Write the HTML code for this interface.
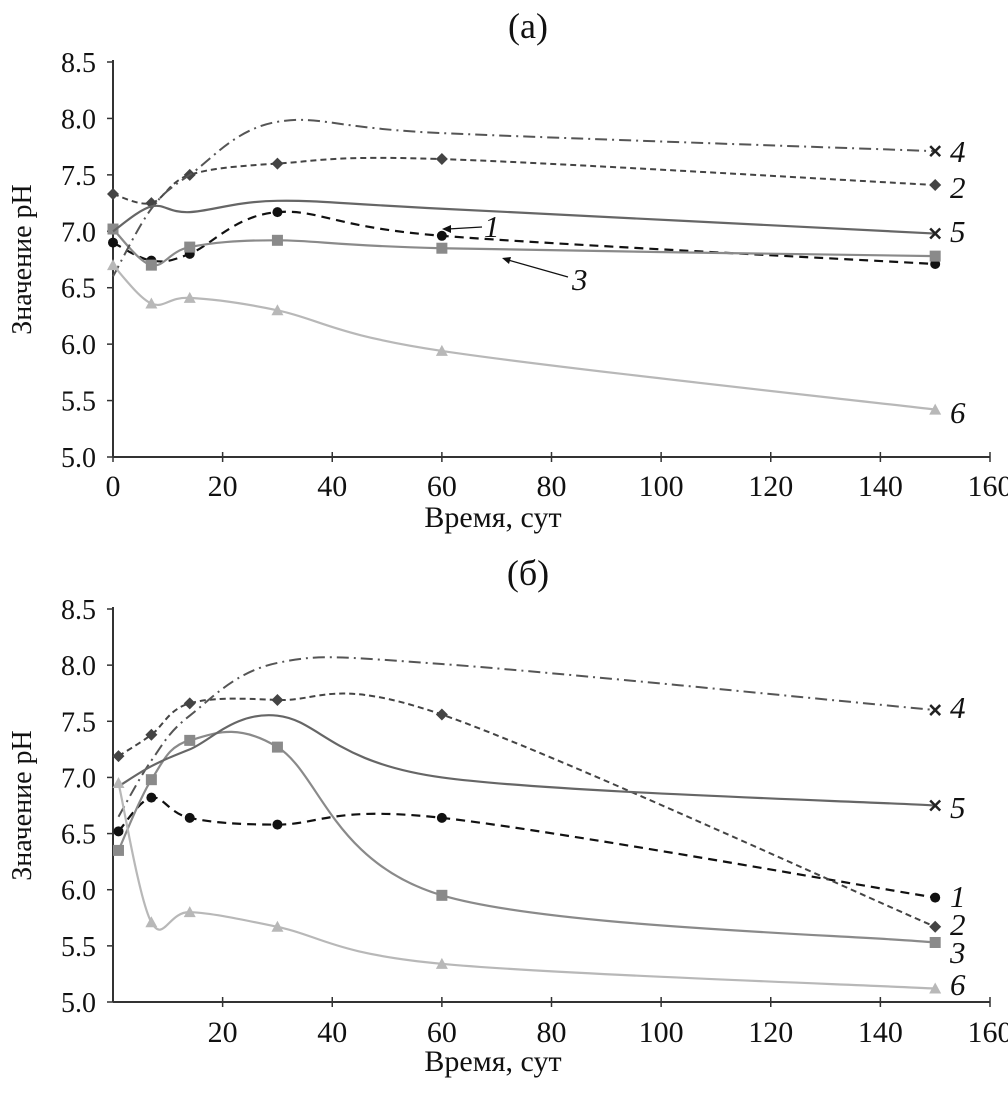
<!DOCTYPE html>
<html><head><meta charset="utf-8"><style>
body{margin:0;background:#fff}
svg text{font-family:"Liberation Serif",serif;fill:#111}
</style></head><body>
<svg id="c" width="1008" height="1093" xmlns="http://www.w3.org/2000/svg"></svg>
<script>
const daysA=[0,7,14,30,60,150];
const daysB=[1,7,14,30,60,150];
const a1=[6.9,6.74,6.8,7.17,6.96,6.71];
const a2=[7.33,7.25,7.5,7.6,7.64,7.41];
const a3=[7.02,6.7,6.86,6.92,6.85,6.78];
const a4=[6.6,7.2,7.5,7.97,7.87,7.71];
const a5=[7.0,7.22,7.17,7.27,7.2,6.98];
const a6=[6.7,6.36,6.41,6.3,5.94,5.42];
const b1=[6.52,6.82,6.64,6.58,6.64,5.93];
const b2=[7.19,7.38,7.66,7.69,7.56,5.67];
const b3=[6.35,6.98,7.33,7.27,5.95,5.53];
const b4=[6.65,7.15,7.55,8.02,8.01,7.6];
const b5=[6.92,7.1,7.25,7.55,7.0,6.75];
const b6=[6.95,5.71,5.8,5.67,5.34,5.12];
const yTicks=[5.0,5.5,6.0,6.5,7.0,7.5,8.0,8.5];
const xTicksA=[0,20,40,60,80,100,120,140,160];
const xTicksB=[20,40,60,80,100,120,140,160];
const labels=['1','2','3','4','5','6'];

const svg=document.getElementById('c');
const NS='http://www.w3.org/2000/svg';
function mk(t,attrs,parent){const e=document.createElementNS(NS,t);for(const k in attrs)e.setAttribute(k,attrs[k]);(parent||svg).appendChild(e);return e;}
const styles=[
 {c:'#111',d:'9,6',m:'circle',w:2.2},
 {c:'#444',d:'6,4',m:'diamond',w:2},
 {c:'#8a8a8a',d:'',m:'square',w:2.2},
 {c:'#555',d:'12,5,2,5',m:'x',w:2},
 {c:'#666',d:'',m:'x',w:2.2},
 {c:'#b8b8b8',d:'',m:'tri',w:2.2}];

function panel(g,y0,y1,days,series,xticks,title,titleY,xtY,xtitleY,labelPos){
 const X=v=>113+v*(990-113)/160;
 const Y=v=>y1-(v-5)*(y1-y0)/3.5;
 let t=mk('text',{x:528,y:titleY,'font-size':36,'text-anchor':'middle'},g);t.textContent=title;
 
 const ax=mk('g',{},g);
 
 mk('line',{x1:113,y1:y0-2,x2:113,y2:y1,stroke:'#333','stroke-width':2},ax);
 mk('line',{x1:113,y1:y1,x2:990,y2:y1,stroke:'#333','stroke-width':2},ax);
 yTicks.forEach(v=>{mk('line',{x1:107,x2:113,y1:Y(v),y2:Y(v),stroke:'#333','stroke-width':1.5},ax);
  const tt=mk('text',{x:96,y:Y(v)+10,'font-size':28,'text-anchor':'end'},ax);tt.textContent=v.toFixed(1);
  });
 xticks.forEach(v=>{mk('line',{x1:X(v),x2:X(v),y1:y1-5,y2:y1+5,stroke:'#333','stroke-width':1.5},ax);
  const tt=mk('text',{x:X(v),y:xtY,'font-size':30,'text-anchor':'middle'},ax);tt.textContent=v;
  });
 let xt=mk('text',{x:493,y:xtitleY,'font-size':30,'text-anchor':'middle'},g);xt.textContent='Время, сут';
 
 let yt=mk('text',{x:0,y:0,'font-size':28,'text-anchor':'middle',transform:`translate(31,${(y0+y1)/2}) rotate(-90)`},g);yt.textContent='Значение pH';
 
 series.forEach((s,i)=>{
  const st=styles[i];const sg=mk('g',{},g);
  
  const p=days.map((d,k)=>[X(d),Y(s[k])]);
  let dstr=`M${p[0][0]},${p[0][1]}`;
  for(let k=0;k<p.length-1;k++){const p0=p[k-1]||p[k],p1=p[k],p2=p[k+1],p3=p[k+2]||p2;
   const c1=[p1[0]+(p2[0]-p0[0])/6,p1[1]+(p2[1]-p0[1])/6],c2=[p2[0]-(p3[0]-p1[0])/6,p2[1]-(p3[1]-p1[1])/6];
   dstr+=` C${c1[0]},${c1[1]} ${c2[0]},${c2[1]} ${p2[0]},${p2[1]}`;}
  mk('path',{d:dstr,fill:'none',stroke:st.c,'stroke-width':st.w,'stroke-dasharray':st.d},sg);
  p.forEach(([x,y],k)=>{
   if(st.m==='x'&&k<p.length-1)return;
   let m;
   if(st.m==='circle')m=mk('circle',{cx:x,cy:y,r:5,fill:st.c},sg);
   else if(st.m==='diamond')m=mk('path',{d:`M${x},${y-6}L${x+6},${y}L${x},${y+6}L${x-6},${y}Z`,fill:st.c},sg);
   else if(st.m==='square')m=mk('rect',{x:x-5.5,y:y-5.5,width:11,height:11,fill:st.c},sg);
   else if(st.m==='tri')m=mk('path',{d:`M${x},${y-6}L${x+6},${y+5}L${x-6},${y+5}Z`,fill:st.c},sg);
   else m=mk('path',{d:`M${x-5},${y-5}L${x+5},${y+5}M${x+5},${y-5}L${x-5},${y+5}`,stroke:'#222','stroke-width':2.5},sg);
   
  });
 });
 labelPos.forEach((lp,i)=>{const tt=mk('text',{x:lp[0],y:lp[1],'font-size':31,'font-style':'italic'},g);tt.textContent=labels[lp[2]];
  });
}
const ga=mk('g',{});
panel(ga,62,457,daysA,[a1,a2,a3,a4,a5,a6],xTicksA,'(а)',38,496,527,
 [[484,237,0],[950,198,1],[572,290,2],[950,162,3],[950,242,4],[950,423,5]]);
mk('line',{x1:482,y1:227,x2:448,y2:229,stroke:'#111','stroke-width':1.3},ga);
mk('path',{d:'M442,229 L451,225 L451,233Z',fill:'#111'},ga);
mk('line',{x1:568,y1:277,x2:508,y2:260,stroke:'#111','stroke-width':1.3},ga);
mk('path',{d:'M502,258 L511,257 L509,264Z',fill:'#111'},ga);
const gb=mk('g',{});
panel(gb,609,1002,daysB,[b1,b2,b3,b4,b5,b6],xTicksB,'(б)',585,1042,1071,
 [[950,907,0],[950,935,1],[950,963,2],[950,718,3],[950,818,4],[950,995,5]]);
</script>
</body></html>
